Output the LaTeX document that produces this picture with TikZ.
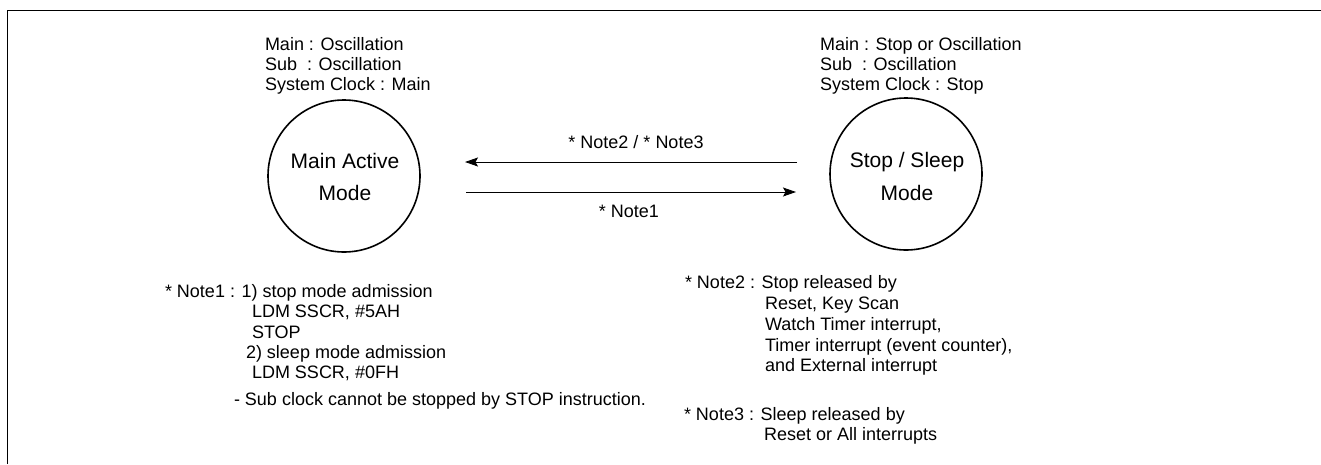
\documentclass[tikz,border=0pt]{standalone}
\usepackage{fontspec}
\setmainfont{Liberation Sans}
\usetikzlibrary{arrows.meta}
\begin{document}
\begin{tikzpicture}[x=1pt,y=-1pt,
  txt/.style={inner sep=0pt,outer sep=0pt,anchor=base west,font=\fontsize{18}{20}\selectfont},
  ctxt/.style={inner sep=0pt,outer sep=0pt,anchor=base,font=\fontsize{18}{20}\selectfont},
  stxt/.style={inner sep=0pt,outer sep=0pt,anchor=base,font=\fontsize{21}{24}\selectfont},
  state/.style={draw,circle,line width=1.6pt,minimum size=152pt,inner sep=0pt},
  conn/.style={line width=0.9pt,-{Stealth[length=13pt,width=9pt,inset=2.5pt]}},
  frameline/.style={line width=1pt}]
\useasboundingbox (0,0) rectangle (1321,464);
% frame
\coordinate (fb) at (7,464);
\coordinate (fc) at (7,10);
\coordinate (fr) at (1321,10);
\draw[frameline] (fb) -- (fc) -- (fr);
% states
\node[state] (main) at (344,176) {};
\node[state] (stop) at (906,174) {};
\node[stxt] (mainl1) at (345,168) {Main Active};
\node[stxt] (mainl2) at (345,200) {Mode};
\node[stxt] (stopl1) at (907,167) {Stop / Sleep};
\node[stxt] (stopl2) at (907,200) {Mode};
% state descriptions
\node[txt] (m1) at (265,50) {Main : Oscillation};
\node[txt] (m2) at (265,70) {Sub\ \ : Oscillation};
\node[txt] (m3) at (265,90) {System Clock : Main};
\node[txt] (s1) at (820,50) {Main : Stop or Oscillation};
\node[txt] (s2) at (820,70) {Sub\ \ : Oscillation};
\node[txt] (s3) at (820,90) {System Clock : Stop};
% connectors
\coordinate (u1) at (797,162);
\coordinate (u2) at (465,162);
\coordinate (l1) at (466,192);
\coordinate (l2) at (796,192);
\draw[conn] (u1) -- (u2);
\draw[conn] (l1) -- (l2);
\node[ctxt] (lab23) at (636,148) {* Note2 / * Note3};
\node[ctxt] (lab1) at (629,217) {* Note1};
% note 1
\node[txt] (n1a) at (165,297) {* Note1 : 1) stop mode admission};
\node[txt] (n1b) at (252,317) {LDM SSCR, \#5AH};
\node[txt] (n1c) at (252,338) {STOP};
\node[txt] (n1d) at (246,358) {2) sleep mode admission};
\node[txt] (n1e) at (252,378) {LDM SSCR, \#0FH};
\node[txt] (n1f) at (234,405) {- Sub clock cannot be stopped by STOP instruction.};
% note 2
\node[txt] (n2a) at (685,288) {* Note2 : Stop released by};
\node[txt] (n2b) at (765,309) {Reset, Key Scan};
\node[txt] (n2c) at (765,330) {Watch Timer interrupt,};
\node[txt] (n2d) at (765,351) {Timer interrupt (event counter),};
\node[txt] (n2e) at (765,371) {and External interrupt};
% note 3
\node[txt] (n3a) at (684,420) {* Note3 : Sleep released by};
\node[txt] (n3b) at (764,440) {Reset or All interrupts};
\end{tikzpicture}
\end{document}
